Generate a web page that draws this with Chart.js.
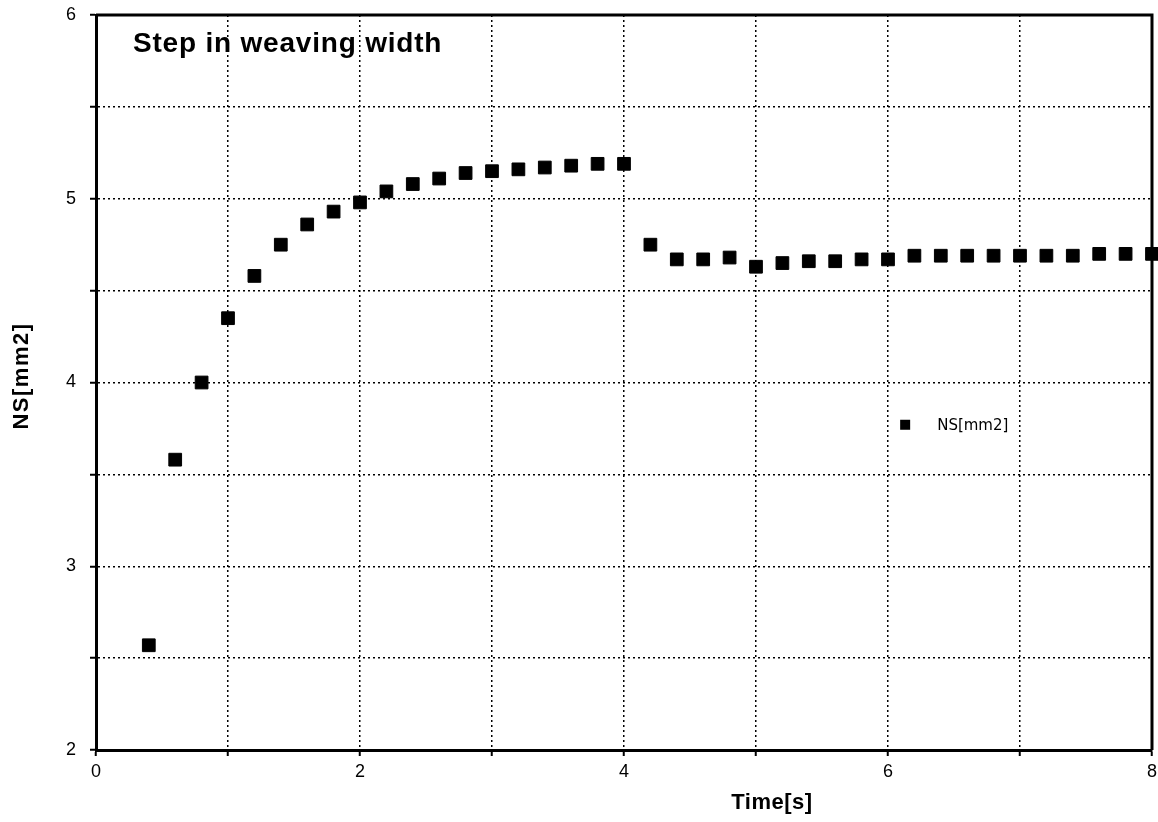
<!DOCTYPE html>
<html>
<head>
<meta charset="utf-8">
<script src="https://cdn.jsdelivr.net/npm/chart.js@4"></script>
<style>
  html, body { margin: 0; padding: 0; background: #fff; overflow: hidden; }
  #wrap { width: 1158px; height: 822px; overflow: hidden; }
</style>
</head>
<body>
<div id="wrap"><canvas id="myChart" width="1162" height="822"></canvas></div>
<script>
// time [s]
var times = [0.4, 0.6, 0.8, 1.0, 1.2, 1.4, 1.6, 1.8, 2.0, 2.2, 2.4, 2.6, 2.8, 3.0, 3.2, 3.4, 3.6, 3.8, 4.0,
             4.2, 4.4, 4.6, 4.8, 5.0, 5.2, 5.4, 5.6, 5.8, 6.0, 6.2, 6.4, 6.6, 6.8, 7.0, 7.2, 7.4, 7.6, 7.8, 8.0];
// NS [mm2]
var ns = [2.57, 3.58, 4.00, 4.35, 4.58, 4.75, 4.86, 4.93, 4.98, 5.04, 5.08, 5.11, 5.14, 5.15, 5.16, 5.17, 5.18, 5.19, 5.19,
          4.75, 4.67, 4.67, 4.68, 4.63, 4.65, 4.66, 4.66, 4.67, 4.67, 4.69, 4.69, 4.69, 4.69, 4.69, 4.69, 4.69, 4.70, 4.70, 4.70];

var seriesName = "NS[mm2]";
var chartTitle = "Step in weaving width";
var xTitle = "Time[s]";
var yTitle = "NS[mm2]";

var points = [];
for (var i = 0; i < times.length; i++) {
    points.push({x: times[i], y: ns[i]});
}

// frame, title, axis titles and the in-plot legend
var extras = {
    id: 'extras',
    afterDraw: function(chart) {
        var ctx = chart.ctx;
        var a = chart.chartArea;
        ctx.save();
        ctx.strokeStyle = '#000';
        ctx.lineWidth = 3;
        ctx.beginPath();
        ctx.moveTo(a.left, a.top);
        ctx.lineTo(a.right, a.top);
        ctx.lineTo(a.right, a.bottom);
        ctx.stroke();

        ctx.fillStyle = '#000';
        ctx.font = 'bold 28px "Liberation Sans", Arial, sans-serif';
        ctx.letterSpacing = '0.8px';
        ctx.textBaseline = 'middle';
        ctx.textAlign = 'left';
        ctx.fillText(chartTitle, a.left + 37, a.top + 29);

        ctx.font = 'bold 22px "Liberation Sans", Arial, sans-serif';
        ctx.letterSpacing = '0.5px';
        ctx.textAlign = 'center';
        ctx.fillText(xTitle, 772, 803);

        ctx.save();
        ctx.translate(22, 376);
        ctx.rotate(-Math.PI / 2);
        ctx.letterSpacing = '1.5px';
        ctx.fillText(yTitle, 0, 0);
        ctx.restore();

        // legend
        ctx.letterSpacing = '0px';
        var lx = chart.scales.x.getPixelForValue(6.13);
        var ly = chart.scales.y.getPixelForValue(3.77);
        ctx.fillRect(lx - 5, ly - 5, 10, 10);
        ctx.font = '15px "DejaVu Sans", sans-serif';
        ctx.textAlign = 'left';
        ctx.fillText(chart.data.datasets[0].label, lx + 32, ly + 1);
        ctx.restore();
    }
};

var config = {
    type: 'scatter',
    data: {
        datasets: [{
            label: seriesName,
            data: points,
            pointStyle: 'rect',
            pointRadius: 9,
            pointHoverRadius: 9,
            backgroundColor: '#000',
            borderColor: '#000',
            borderWidth: 1,
            clip: 8
        }]
    },
    options: {
        responsive: false,
        animation: false,
        layout: { padding: { left: 0, top: 15, right: 0, bottom: 0 } },
        plugins: {
            legend: { display: false },
            tooltip: { enabled: false }
        },
        scales: {
            x: {
                type: 'linear',
                min: 0,
                max: 8,
                ticks: {
                    stepSize: 1,
                    color: '#000',
                    padding: 5,
                    font: { family: '"Liberation Sans", Arial, sans-serif', size: 18 },
                    maxRotation: 0,
                    autoSkip: false,
                    callback: function(v) { return v % 2 === 0 ? v : ''; }
                },
                grid: { color: '#000', lineWidth: 1.5, tickLength: 6, tickColor: '#000', tickWidth: 2 },
                border: { display: true, color: '#000', width: 3, dash: [2, 3] },
                afterFit: function(s) { s.height = 72; }
            },
            y: {
                min: 2,
                max: 6,
                ticks: {
                    stepSize: 0.5,
                    color: '#000',
                    padding: 14,
                    font: { family: '"Liberation Sans", Arial, sans-serif', size: 18 },
                    callback: function(v) { return Number.isInteger(v) ? v : ''; }
                },
                grid: { color: '#000', lineWidth: 1.5, tickLength: 6, tickColor: '#000', tickWidth: 2 },
                border: { display: true, color: '#000', width: 3, dash: [2, 3] },
                afterFit: function(s) { s.width = 96; s.paddingTop = 0; s.paddingBottom = 0; }
            }
        }
    },
    plugins: [extras]
};

var myChart = new Chart(document.getElementById('myChart'), config);
</script>
</body>
</html>
